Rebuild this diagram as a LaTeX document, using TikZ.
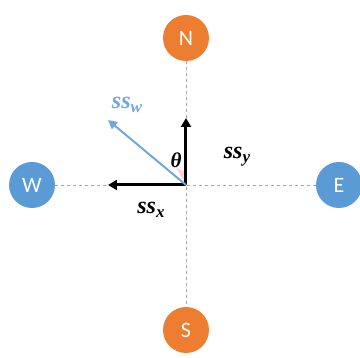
\documentclass[tikz,border=0pt]{standalone}
\usepackage{fontspec}
\newfontfamily\calib{Carlito}
\newfontfamily\labf{Liberation Serif}
\usetikzlibrary{arrows.meta}
\definecolor{orng}{HTML}{ED7D31}
\definecolor{blu}{HTML}{5B9BD5}
\definecolor{lblu}{HTML}{6FA8DC}
\newcommand{\vlab}[2]{{\labf\bfseries\itshape\fontsize{24}{24}\selectfont #1\raisebox{-4pt}{\fontsize{17}{17}\selectfont #2}}}
\begin{document}
\begin{tikzpicture}[x=1pt,y=-1pt,
  dir/.style={circle,minimum size=46pt,inner sep=0pt,text=white,font=\calib\fontsize{22}{22}\selectfont},
  guide/.style={draw=gray!70,dashed,line width=0.6pt,dash pattern=on 3pt off 3pt},
  vec/.style={line width=3pt,-{Triangle[length=9pt,width=10pt]}},
  lab/.style={inner sep=0pt}]
\useasboundingbox (0,0) rectangle (360,358);
\node[dir,fill=orng] (N) at (186,38) {N};
\node[dir,fill=orng] (S) at (186,330) {S};
\node[dir,fill=blu] (W) at (32,185) {W};
\node[dir,fill=blu] (E) at (339,185) {E};
\coordinate (O) at (186,185);
\draw[guide] (N) -- (S);
\draw[guide] (W) -- (E);
\fill[pink!70] (O) -- ++(0,-14) arc[start angle=90,end angle=140,radius=14] -- cycle;
\coordinate (Y) at (186,118);
\coordinate (X) at (108,185);
\coordinate (B) at (108,120);
\draw[vec] (O) -- (Y);
\draw[vec] (O) -- (X);
\draw[line width=2pt,lblu,-{Triangle[length=9pt,width=9pt]}] (O) -- (B);
\node[lab] (th) at (176,160) {\labf\bfseries\itshape\fontsize{21}{21}\selectfont θ};
\node[lab] (sy) at (237,157) {\vlab{ss}{y}};
\node[lab] (sx) at (151,210) {\vlab{ss}{x}};
\node[lab,text=lblu] (sw) at (127,105) {\vlab{ss}{w}};
\end{tikzpicture}
\end{document}
